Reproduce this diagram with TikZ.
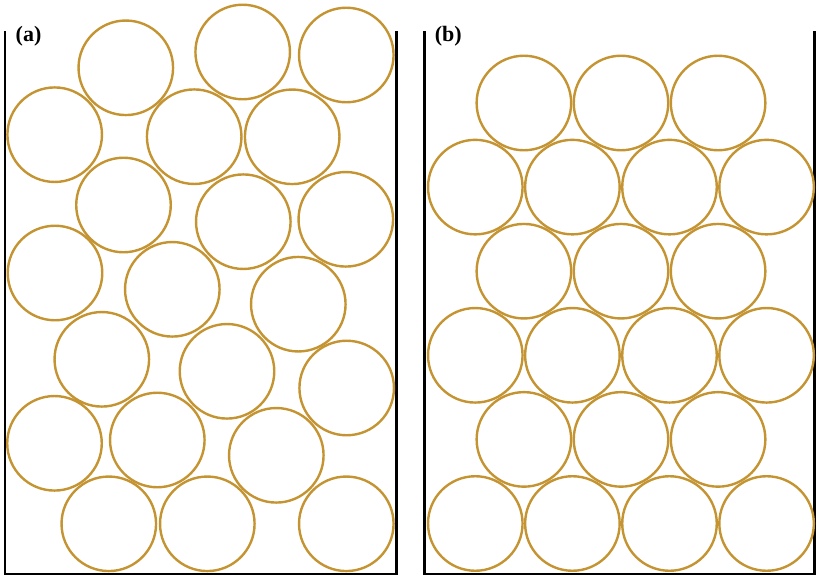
\documentclass[tikz,border=0pt]{standalone}
\usepackage{fontspec}
\setmainfont{Liberation Serif}
\definecolor{grainc}{RGB}{196,148,50}
\begin{document}
\begin{tikzpicture}[x=0.75pt,y=-0.75pt,
        grain/.style={circle,draw=grainc,line width=1.8pt,minimum size=70.9pt,inner sep=0},
        wall/.style={line width=2pt,line join=miter},
        lbl/.style={font=\fontsize{16.5}{18}\selectfont\bfseries,inner sep=0}]
    \useasboundingbox (0,0) rectangle (819,578);
    % (a) random packing
    \draw[wall] (5,31) -- (5,574) -- (396.5,574) -- (396.5,31);
    \foreach \x/\y/\n in {125.8/67.8/1,242.7/52/2,346.3/55/3,54.7/134.7/4,194.2/136.7/5,
        292.2/136.8/6,123.5/205/7,243.3/221.7/8,345.8/219.3/9,55/273/10,172.3/289.3/11,
        298.3/304.2/12,101.8/359.3/13,227/371.3/14,346.7/388/15,54.5/443.3/16,157.3/440/17,
        276.3/455.3/18,108.8/523.8/19,207.3/523.8/20,346.3/523.8/21}{
        \node[grain] (a\n) at (\x,\y) {};
    }
    \node[lbl] (la) at (28.5,36) {(a)};
    % (b) hexagonal packing
    \draw[wall] (424.5,31) -- (424.5,574) -- (814.3,574) -- (814.3,31);
    \foreach \r in {0,2,4}{
        \foreach \c in {0,...,3}{
            \node[grain] (b\r\c) at (475.3+97.1*\c,523.5-84.1*\r) {};
        }
    }
    \foreach \r in {1,3,5}{
        \foreach \c in {0,...,2}{
            \node[grain] (b\r\c) at (523.9+97.1*\c,523.5-84.1*\r) {};
        }
    }
    \node[lbl] (lb) at (448.3,36) {(b)};
\end{tikzpicture}
\end{document}
